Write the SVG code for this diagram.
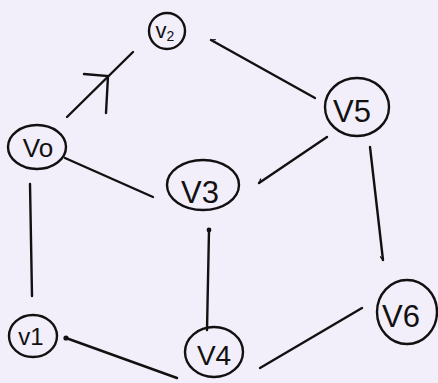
<svg xmlns="http://www.w3.org/2000/svg" width="438" height="383" viewBox="0 0 438 383">
  <style>
    .node ellipse { fill: none; stroke: #111; stroke-width: 2.4; }
    .node text { font-family: "Liberation Sans", "DejaVu Sans", sans-serif; fill: #111; text-anchor: middle; }
    .edge { stroke: #111; stroke-width: 2.4; stroke-linecap: round; fill: none; }
    .dot { fill: #111; }
  </style>
  <defs>
    <marker id="hook" viewBox="0 0 10 10" refX="9" refY="5" markerWidth="6" markerHeight="6" orient="auto" markerUnits="userSpaceOnUse">
      <path d="M9 5 L3 9" stroke="#111" stroke-width="2" fill="none" stroke-linecap="round"/>
    </marker>
  </defs>
  <rect width="438" height="383" fill="#f2eefa"/>

  <g id="connectors">
    <!-- V0 to v2 with the hand-drawn open head -->
    <line class="edge" x1="67" y1="117" x2="133" y2="52"/>
    <path class="edge" d="M84 74 L108 76 L106 113"/>
    <!-- V5 to v2 -->
    <line class="edge" x1="315" y1="98" x2="211" y2="40" marker-end="url(#hook)"/>
    <!-- V0 to v1 -->
    <line class="edge" x1="30" y1="184" x2="32" y2="296"/>
    <!-- V0 to V3 -->
    <line class="edge" x1="65" y1="158" x2="153" y2="197"/>
    <!-- V5 to V3 -->
    <line class="edge" x1="327" y1="137" x2="259" y2="183" marker-end="url(#hook)"/>
    <!-- V5 to V6 -->
    <line class="edge" x1="370" y1="147" x2="383" y2="260" marker-end="url(#hook)"/>
    <!-- V3 to V4 -->
    <line class="edge" x1="209" y1="230" x2="207" y2="330"/>
    <circle class="dot" cx="209" cy="230" r="2.4"/>
    <!-- V4 to v1 -->
    <line class="edge" x1="177" y1="378" x2="66" y2="338"/>
    <circle class="dot" cx="66" cy="338" r="2.6"/>
    <!-- V6 to V4 -->
    <line class="edge" x1="362" y1="308" x2="260" y2="368"/>
  </g>

  <g id="v2" class="node">
    <ellipse cx="167" cy="31" rx="18" ry="18"/>
    <text x="165" y="38" font-size="22">v<tspan font-size="14" dy="3">2</tspan></text>
  </g>
  <g id="v5" class="node">
    <ellipse cx="357" cy="107" rx="32" ry="29"/>
    <text x="352" y="122" font-size="31">V5</text>
  </g>
  <g id="v0" class="node">
    <ellipse cx="37" cy="147" rx="29" ry="22"/>
    <text x="38" y="157" font-size="26">Vo</text>
  </g>
  <g id="v3" class="node">
    <ellipse cx="203" cy="185" rx="36" ry="25"/>
    <text x="200" y="203" font-size="31">V3</text>
  </g>
  <g id="v1" class="node">
    <ellipse cx="33" cy="336" rx="24" ry="21"/>
    <text x="31" y="345" font-size="24">v1</text>
  </g>
  <g id="v4" class="node">
    <ellipse cx="214" cy="352" rx="29" ry="25"/>
    <text x="214" y="365" font-size="28">V4</text>
  </g>
  <g id="v6" class="node">
    <ellipse cx="407" cy="312" rx="30" ry="32"/>
    <text x="401" y="327" font-size="31">V6</text>
  </g>
</svg>
